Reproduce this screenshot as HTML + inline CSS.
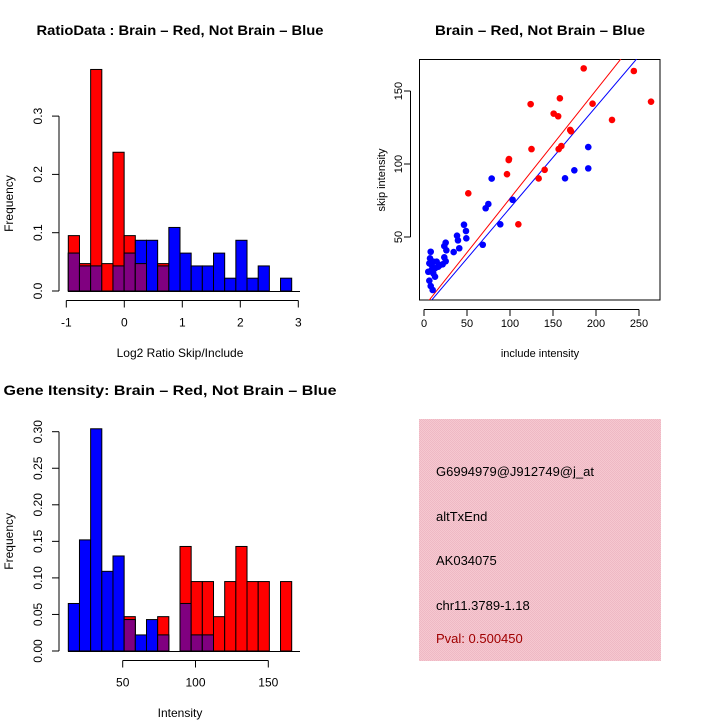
<!DOCTYPE html>
<html><head><meta charset="utf-8"><style>
html,body{margin:0;padding:0;background:#fff;}
svg{display:block;font-family:"Liberation Sans",sans-serif;}
</style></head><body>
<svg id="c" width="720" height="720" viewBox="0 0 720 720" xmlns="http://www.w3.org/2000/svg">
<rect width="720" height="720" fill="#fff"/>
<defs>
<pattern id="pink" width="2" height="2" patternUnits="userSpaceOnUse"><rect width="2" height="2" fill="#f6c8d0"/><rect width="1" height="1" fill="#eeb8c4"/><rect x="1" y="1" width="1" height="1" fill="#eeb8c4"/></pattern>
<clipPath id="scClip"><rect x="419" y="59" width="241" height="241"/></clipPath>
</defs>
<g id="h1"></g>
<g id="sc"></g>
<g id="h2"></g>
<g>
<rect x="419" y="419" width="242" height="242" fill="url(#pink)"/>
<text x="436" y="476" font-size="13">G6994979@J912749@j_at</text>
<text x="436" y="521" font-size="13">altTxEnd</text>
<text x="436" y="565" font-size="13">AK034075</text>
<text x="436" y="610" font-size="13">chr11.3789-1.18</text>
<text x="436" y="643" font-size="13" fill="#a00000">Pval: 0.500450</text>
</g>
</svg>
<script>
// Ratio histogram data
const ratioRed = [0.095,0.047,0.38,0.047,0.238,0.095,0.047,0,0.047,0,0,0,0,0,0,0,0,0,0,0];
const ratioBlue = [0.065,0.043,0.043,0,0.043,0.065,0.087,0.087,0.043,0.109,0.065,0.043,0.043,0.065,0.022,0.087,0.022,0.043,0,0.022];
const ratioXTicks = [-1,0,1,2,3];
const ratioYTicks = ["0.0","0.1","0.2","0.3"];
// Gene intensity histogram data
const intRed = [0,0,0,0,0,0.047,0,0,0.047,0,0.143,0.095,0.095,0.047,0.095,0.143,0.095,0.095,0,0.095];
const intBlue = [0.065,0.152,0.304,0.109,0.130,0.043,0.022,0.043,0.022,0,0.065,0.022,0.022,0,0,0,0,0,0,0];
const intXTicks = [50,100,150];
const intYTicks = ["0.00","0.05","0.10","0.15","0.20","0.25","0.30"];
// Scatter data
const redX = [185.7,244,124,158,196,264,150.8,156,218.6,170,171,125,156.6,159.7,98.8,98.5,140.3,133.3,96.5,51.5,109.7];
const redY = [165.5,163.7,141,145,141.3,142.7,134.5,132.7,130.2,123.3,122.4,110.2,110.2,112.3,103.4,102.7,96,90.1,93,79.9,58.7];
const blueX = [191,191,174.8,164,78.7,103,74.8,71.7,88.7,68.3,46.5,48.8,49.2,38.4,39.5,41,34.5,25.2,23.6,26,23.6,25.2,7.8,7,6.2,10.8,14.7,18.6,21.7,5,8.9,12.8,10.8,6.2,7.8,10.1,12.8,16.6,8.9];
const blueY = [111.6,97,95.7,90.2,90,75.5,72.6,69.7,58.7,44.7,58.4,54.1,49.1,50.9,47.7,42.3,39.7,46.1,43.8,40.9,36.1,33.4,39.9,35.4,32,33.1,33.1,30.8,31.3,26.2,27.4,28.6,25.1,20.1,16.4,13.7,22.8,29.7,30.8];
const fitSlope = [0.741,0.693];
const fitIntercept = [2.3,0.6];
const scXTicks = [0,50,100,150,200,250];
const scYTicks = [50,100,150];

const NS="http://www.w3.org/2000/svg";
function mk(parent,tag,attrs,txt){const e=document.createElementNS(NS,tag);for(const k in attrs)e.setAttribute(k,attrs[k]);if(txt!==undefined)e.textContent=txt;parent.appendChild(e);return e;}

function hist(g,red,blue,y0,pxPerUnit,xTickVals,xScale,yTicks,yStep,title,titleX,titleLen,titleY,xlab,xlabX,xlabY,axisTop){
  const x0=68.3,bw=11.17;
  const ys=v=>y0-v*pxPerUnit;
  for(let i=0;i<red.length;i++){
    const xl=x0+i*bw;
    if(red[i]>0){const r=mk(g,'rect',{x:xl,y:ys(red[i]),width:bw,height:y0-ys(red[i]),fill:'#ff0000',stroke:'#000','stroke-width':1});
      }
    if(blue[i]>0){const b=mk(g,'rect',{x:xl,y:ys(blue[i]),width:bw,height:y0-ys(blue[i]),fill:'#0000ff',stroke:'#000','stroke-width':1});
      }
    const m=Math.min(red[i],blue[i]);
    if(m>0){const p=mk(g,'rect',{x:xl,y:ys(m),width:bw,height:y0-ys(m),fill:'#800080',stroke:'#000','stroke-width':1});
      }
  }
  // y axis
  const yTop=ys((yTicks.length-1)*yStep);
  mk(g,'line',{x1:59,y1:y0,x2:59,y2:yTop,stroke:'#000'});
  yTicks.forEach((t,i)=>{const y=ys(i*yStep);mk(g,'line',{x1:52,y1:y,x2:59,y2:y,stroke:'#000'});
    const tx=mk(g,'text',{x:42,y:y,'font-size':12,'text-anchor':'middle',transform:`rotate(-90 42 ${y})`},t);
    });
  // baseline
  mk(g,'line',{x1:68,y1:y0+0.5,x2:300,y2:y0+0.5,stroke:'#000'});
  // x axis
  const xs=xScale;
  const ax=y0+9.5;
  mk(g,'line',{x1:xs(xTickVals[0]),y1:ax,x2:xs(xTickVals[xTickVals.length-1]),y2:ax,stroke:'#000'});
  xTickVals.forEach(v=>{mk(g,'line',{x1:xs(v),y1:ax,x2:xs(v),y2:ax+7,stroke:'#000'});
    const tx=mk(g,'text',{x:xs(v),y:ax+26,'font-size':12,'text-anchor':'middle'},String(v));
    });
  const tt=mk(g,'text',{x:titleX,y:titleY,'font-size':14,'font-weight':'bold','text-anchor':'middle',textLength:titleLen,lengthAdjust:'spacingAndGlyphs'},title);
  
  const xl=mk(g,'text',{x:xlabX,y:xlabY,'font-size':12,'text-anchor':'middle'},xlab);
  
  const ym=(y0+yTop)/2;
  const yl=mk(g,'text',{x:13,y:ym,'font-size':12,'text-anchor':'middle',transform:`rotate(-90 13 ${ym})`},'Frequency');
  
}
hist(document.getElementById('h1'),ratioRed,ratioBlue,291,583,ratioXTicks,v=>124.3+v*58,ratioYTicks,0.1,
  'RatioData : Brain \u2013 Red, Not Brain \u2013 Blue',180,287,35,'Log2 Ratio Skip/Include',180,357);
hist(document.getElementById('h2'),intRed,intBlue,651,731,intXTicks,v=>122.7+(v-50)*1.456,intYTicks,0.05,
  'Gene Itensity: Brain \u2013 Red, Not Brain \u2013 Blue',170,333,395,'Intensity',180,717);

// scatter
(function(){
  const g=document.getElementById('sc');
  const xs=v=>424+v*0.86, ys=v=>237-(v-50)*1.46;
  mk(g,'rect',{x:419.5,y:59.5,width:240.5,height:240.5,fill:'none',stroke:'#000'});
  const cg=mk(g,'g',{'clip-path':'url(#scClip)'});
  const cols=['#ff0000','#0000ff'];
  for(let k=0;k<2;k++){
    const xa=0,xb=300;
    const l=mk(cg,'line',{x1:xs(xa),y1:ys(fitIntercept[k]+fitSlope[k]*xa),x2:xs(xb),y2:ys(fitIntercept[k]+fitSlope[k]*xb),stroke:cols[k],'stroke-width':1});
    
  }
  redX.forEach((x,i)=>{const c=mk(g,'circle',{cx:xs(x),cy:ys(redY[i]),r:3.3,fill:'#ff0000'});
    });
  blueX.forEach((x,i)=>{const c=mk(g,'circle',{cx:xs(x),cy:ys(blueY[i]),r:3.3,fill:'#0000ff'});
    });
  mk(g,'line',{x1:xs(0),y1:309.5,x2:xs(250),y2:309.5,stroke:'#000'});
  scXTicks.forEach(v=>{mk(g,'line',{x1:xs(v),y1:309.5,x2:xs(v),y2:316,stroke:'#000'});
    const t=mk(g,'text',{x:xs(v),y:327,'font-size':11,'text-anchor':'middle'},String(v));
    });
  mk(g,'line',{x1:410.5,y1:ys(50),x2:410.5,y2:ys(150),stroke:'#000'});
  scYTicks.forEach(v=>{const y=ys(v);mk(g,'line',{x1:404,y1:y,x2:410.5,y2:y,stroke:'#000'});
    const t=mk(g,'text',{x:402,y:y,'font-size':11,'text-anchor':'middle',transform:`rotate(-90 402 ${y})`},String(v));
    });
  const tt=mk(g,'text',{x:540,y:35,'font-size':14,'font-weight':'bold','text-anchor':'middle',textLength:210,lengthAdjust:'spacingAndGlyphs'},'Brain \u2013 Red, Not Brain \u2013 Blue');
  
  const xl=mk(g,'text',{x:540,y:357,'font-size':11,'text-anchor':'middle'},'include intensity');
  
  const yl=mk(g,'text',{x:385,y:180,'font-size':11,'text-anchor':'middle',transform:'rotate(-90 385 180)'},'skip intensity');
  
})();
</script>
</body></html>
